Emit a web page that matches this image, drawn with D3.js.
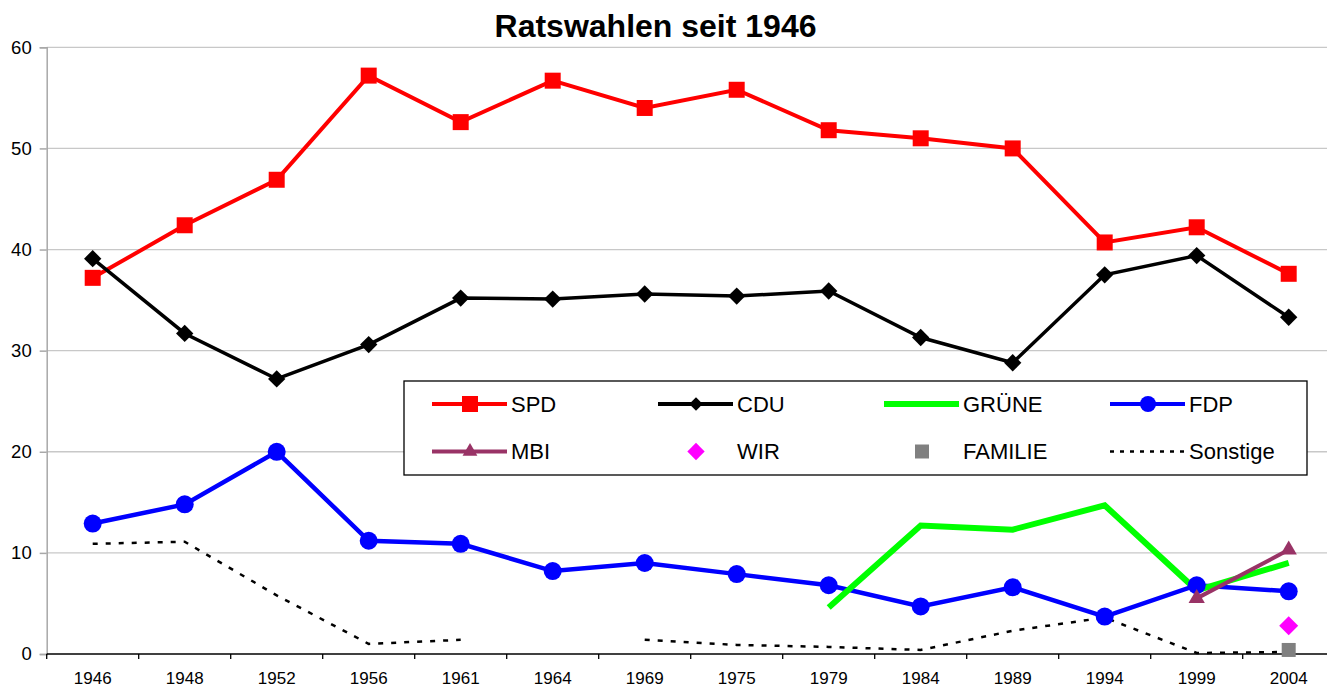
<!DOCTYPE html>
<html>
<head>
<meta charset="utf-8">
<script src="https://cdn.jsdelivr.net/npm/d3@7"></script>
<style>
  html, body { margin: 0; padding: 0; background: #fff; }
  svg { display: block; font-family: "Liberation Sans", Arial, sans-serif; }
</style>
</head>
<body>
<svg id="chart" width="1327" height="688"></svg>
<script>
const years = ["1946","1948","1952","1956","1961","1964","1969","1975","1979","1984","1989","1994","1999","2004"];
const yTicks = [0, 10, 20, 30, 40, 50, 60];
const spd = [37.2, 42.4, 46.9, 57.2, 52.6, 56.7, 54.0, 55.8, 51.8, 51.0, 50.0, 40.7, 42.2, 37.6];
const cdu = [39.1, 31.7, 27.2, 30.6, 35.2, 35.1, 35.6, 35.4, 35.9, 31.3, 28.8, 37.5, 39.4, 33.3];
const gruene = [null, null, null, null, null, null, null, null, 4.6, 12.7, 12.3, 14.7, 6.3, 9.0];
const fdp = [12.9, 14.8, 20.0, 11.2, 10.9, 8.2, 9.0, 7.9, 6.8, 4.7, 6.6, 3.7, 6.8, 6.2];
const mbi = [null, null, null, null, null, null, null, null, null, null, null, null, 5.5, 10.3];
const wir = [null, null, null, null, null, null, null, null, null, null, null, null, null, 2.8];
const familie = [null, null, null, null, null, null, null, null, null, null, null, null, null, 0.4];
const sonstige = [10.9, 11.1, 5.8, 1.0, 1.4, null, 1.4, 0.9, 0.7, 0.4, 2.3, 3.6, 0.1, 0.2];
const legendNames = ["SPD", "CDU", "GRÜNE", "FDP", "MBI", "WIR", "FAMILIE", "Sonstige"];

const svg = d3.select("#chart");
const plotLeft = 46.7, plotTop = 47.3, plotBottom = 654;
const x = d3.scaleBand().domain(years).range([plotLeft, plotLeft + 92 * years.length]);
const y = d3.scaleLinear().domain([0, 60]).range([plotBottom, plotTop]);
const cx = d => x(d) + x.bandwidth() / 2;

// gridlines
svg.append("g").selectAll("line").data(yTicks.filter(t => t > 0)).join("line")
  .attr("x1", plotLeft).attr("x2", 1327)
  .attr("y1", d => y(d)).attr("y2", d => y(d))
  .attr("stroke", "#c8c8c8").attr("stroke-width", 1.3);

// y axis
const yAxis = svg.append("g").attr("transform", `translate(${plotLeft},0)`)
  .call(d3.axisLeft(y).tickValues(yTicks).tickSize(7).tickPadding(8));
yAxis.select(".domain").attr("stroke", "#a8a8a8").attr("stroke-width", 1.5);
yAxis.selectAll(".tick line").attr("stroke", "#a8a8a8").attr("stroke-width", 1.5);
yAxis.selectAll(".tick text").attr("font-size", 18.5).attr("fill", "#000")
  .attr("font-family", "Liberation Sans, Arial, sans-serif");

// x axis
const xAxis = svg.append("g").attr("transform", `translate(0,${plotBottom})`)
  .call(d3.axisBottom(x).tickSize(0).tickPadding(18));
xAxis.select(".domain").remove();
xAxis.append("line").attr("x1", plotLeft).attr("x2", 1327).attr("y1", 0).attr("y2", 0)
  .attr("stroke", "#000").attr("stroke-width", 1.5);
xAxis.selectAll(".tickmark").data(d3.range(years.length + 1)).join("line")
  .attr("class", "tickmark")
  .attr("x1", i => plotLeft + i * x.bandwidth()).attr("x2", i => plotLeft + i * x.bandwidth())
  .attr("y1", 0).attr("y2", 5).attr("stroke", "#000").attr("stroke-width", 1.3);
xAxis.selectAll(".tick text").attr("font-size", 17).attr("fill", "#000")
  .attr("font-family", "Liberation Sans, Arial, sans-serif");

// title
svg.append("text").attr("x", 655.5).attr("y", 37).attr("text-anchor", "middle")
  .attr("font-size", 32).attr("font-weight", "bold").text("Ratswahlen seit 1946");

const line = d3.line().defined(d => d.v !== null).x(d => cx(d.year)).y(d => y(d.v));
const pts = arr => arr.map((v, i) => ({ year: years[i], v }));

function drawLine(arr, color, width, dash) {
  svg.append("path").datum(pts(arr)).attr("d", line)
    .attr("fill", "none").attr("stroke", color).attr("stroke-width", width)
    .attr("stroke-linejoin", "miter").attr("stroke-dasharray", dash || null);
}
drawLine(spd, "#ff0000", 4);
drawLine(cdu, "#000000", 3.5);
drawLine(fdp, "#0000ff", 4.5);
drawLine(gruene, "#00ff00", 6);
drawLine(mbi, "#993366", 4);
drawLine(sonstige, "#000000", 2.5, "5,8");

function drawMarkers(arr, type, size, color, rot) {
  svg.append("g").selectAll("path").data(pts(arr).filter(d => d.v !== null)).join("path")
    .attr("transform", d => `translate(${cx(d.year)},${y(d.v)}) rotate(${rot || 0})`)
    .attr("d", d3.symbol().type(type).size(size)).attr("fill", color);
}
drawMarkers(spd, d3.symbolSquare, 16 * 16, "#ff0000");
drawMarkers(cdu, d3.symbolSquare, 150, "#000000", 45);
drawMarkers(fdp, d3.symbolCircle, Math.PI * 81, "#0000ff");
drawMarkers(mbi, d3.symbolTriangle, 115, "#993366");
drawMarkers(wir, d3.symbolSquare, 180, "#ff00ff", 45);
drawMarkers(familie, d3.symbolSquare, 14 * 14, "#808080");

// legend
const lg = svg.append("g");
lg.append("rect").attr("x", 404).attr("y", 381).attr("width", 903).attr("height", 94)
  .attr("fill", "#fff").attr("stroke", "#000").attr("stroke-width", 1.3);
const legendStyle = [
  { color: "#ff0000", w: 4, sym: d3.symbolSquare, size: 256, line: true, rot: 0 },
  { color: "#000000", w: 4, sym: d3.symbolSquare, size: 90, line: true, rot: 45 },
  { color: "#00ff00", w: 6, sym: null, line: true },
  { color: "#0000ff", w: 4, sym: d3.symbolCircle, size: Math.PI * 64, line: true, rot: 0 },
  { color: "#993366", w: 4, sym: d3.symbolTriangle, size: 95, line: true, rot: 0 },
  { color: "#ff00ff", w: 0, sym: d3.symbolSquare, size: 150, line: false, rot: 45 },
  { color: "#808080", w: 0, sym: d3.symbolSquare, size: 14 * 14, line: false, rot: 0 },
  { color: "#000000", w: 2.5, sym: null, line: true, dash: "4,6" }
];
legendNames.forEach((name, i) => {
  const col = i % 4, row = Math.floor(i / 4);
  const x0 = 432 + col * 226, yy = 404 + row * 47.5;
  const st = legendStyle[i];
  if (st.line) {
    lg.append("line").attr("x1", x0).attr("x2", x0 + 75).attr("y1", yy).attr("y2", yy)
      .attr("stroke", st.color).attr("stroke-width", st.w).attr("stroke-dasharray", st.dash || null);
  }
  if (st.sym) {
    lg.append("path").attr("transform", `translate(${x0 + 38},${yy}) rotate(${st.rot})`)
      .attr("d", d3.symbol().type(st.sym).size(st.size)).attr("fill", st.color);
  }
  lg.append("text").attr("x", x0 + 79).attr("y", yy).attr("dy", "0.36em")
    .attr("font-size", 22).attr("fill", "#000").text(name);
});
</script>
</body>
</html>
